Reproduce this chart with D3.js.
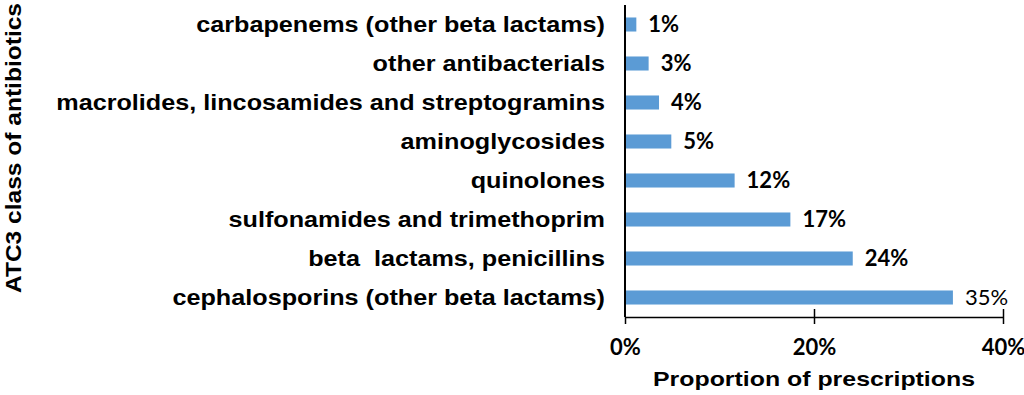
<!DOCTYPE html>
<html><head><meta charset="utf-8">
<script src="https://cdn.jsdelivr.net/npm/d3@7"></script>
<style>body{margin:0;background:#fff;} svg{display:block;} text{white-space:pre;}</style>
</head><body>
<svg id="c" width="1024" height="395"></svg>
<script>
const categories = [
  "carbapenems (other beta lactams)",
  "other antibacterials",
  "macrolides, lincosamides and streptogramins",
  "aminoglycosides",
  "quinolones",
  "sulfonamides and trimethoprim",
  "beta  lactams, penicillins",
  "cephalosporins (other beta lactams)"
];
const values = [1.2, 2.5, 3.6, 4.9, 11.6, 17.5, 24.1, 34.7];
const valueLabels = ["1%", "3%", "4%", "5%", "12%", "17%", "24%", "35%"];
const xTicks = [0, 20, 40];
const xTickLabels = ["0%", "20%", "40%"];

const ARIAL = "'Liberation Sans', Arial, sans-serif";
const CALIBRI = "Lato, 'Open Sans', sans-serif";

function fitWidth(sel, target) {
  sel.each(function (d, i) {
    const w = typeof target === "function" ? target(this.getComputedTextLength(), i) : target;
    d3.select(this).attr("textLength", w).attr("lengthAdjust", "spacingAndGlyphs");
  });
}

const svg = d3.select("#c");
const x = d3.scaleLinear().domain([0, 40]).range([625, 1003]);
const y = d3.scaleBand().domain(categories).range([5, 317]).paddingInner(0.64).paddingOuter(0.32);

svg.selectAll("rect.bar").data(categories).join("rect")
  .attr("class", "bar")
  .attr("x", x(0))
  .attr("y", d => y(d))
  .attr("width", (d, i) => x(values[i]) - x(0))
  .attr("height", y.bandwidth())
  .attr("fill", "#5b9bd5");

// value labels
svg.selectAll("text.val").data(categories).join("text")
  .attr("class", "val")
  .attr("x", (d, i) => x(values[i]) + 12)
  .attr("y", d => y(d) + y.bandwidth() / 2)
  .attr("dy", "0.36em")
  .attr("font-family", CALIBRI)
  .attr("font-weight", (d, i) => i === 7 ? "normal" : "bold")
  .attr("font-size", 22)
  .attr("fill", "#000")
  .text((d, i) => valueLabels[i]);

// category labels
const cat = svg.selectAll("text.cat").data(categories).join("text")
  .attr("class", "cat")
  .attr("x", 605)
  .attr("y", d => y(d) + y.bandwidth() / 2)
  .attr("dy", "0.33em")
  .attr("text-anchor", "end")
  .attr("font-family", ARIAL)
  .attr("font-weight", "bold")
  .attr("font-size", 22)
  .attr("fill", "#000")
  .text(d => d);
fitWidth(cat, w => w * 1.145);

// y axis line
svg.append("line").attr("x1", x(0)).attr("x2", x(0)).attr("y1", 5).attr("y2", 317)
  .attr("stroke", "#000").attr("stroke-width", 2);

// x axis
const xAxis = d3.axisBottom(x).tickValues(xTicks).tickSize(0).tickFormat((d, i) => xTickLabels[i]);
const gx = svg.append("g").attr("transform", "translate(0,317)").call(xAxis);
gx.select(".domain").attr("stroke", "#000").attr("stroke-width", 1.5);
gx.selectAll(".tick line").attr("y1", d => d === 0 ? 0 : -8).attr("y2", 7).attr("stroke", "#000").attr("stroke-width", 1.5);
gx.selectAll(".tick text")
  .attr("y", 30).attr("dy", "0.36em")
  .attr("font-family", CALIBRI)
  .attr("font-weight", "bold").attr("font-size", 22).attr("fill", "#000");

const xt = svg.append("text").attr("x", 814).attr("y", 378.5).attr("dy", "0.36em")
  .attr("text-anchor", "middle")
  .attr("font-family", ARIAL)
  .attr("font-weight", "bold").attr("font-size", 21)
  .text("Proportion of prescriptions");
fitWidth(xt, 322);

const yt = svg.append("text").attr("transform", "translate(13,148) rotate(-90)").attr("dy", "0.36em")
  .attr("text-anchor", "middle")
  .attr("font-family", ARIAL)
  .attr("font-weight", "bold").attr("font-size", 22)
  .text("ATC3 class of antibiotics");
fitWidth(yt, 290);
</script>
</body></html>
